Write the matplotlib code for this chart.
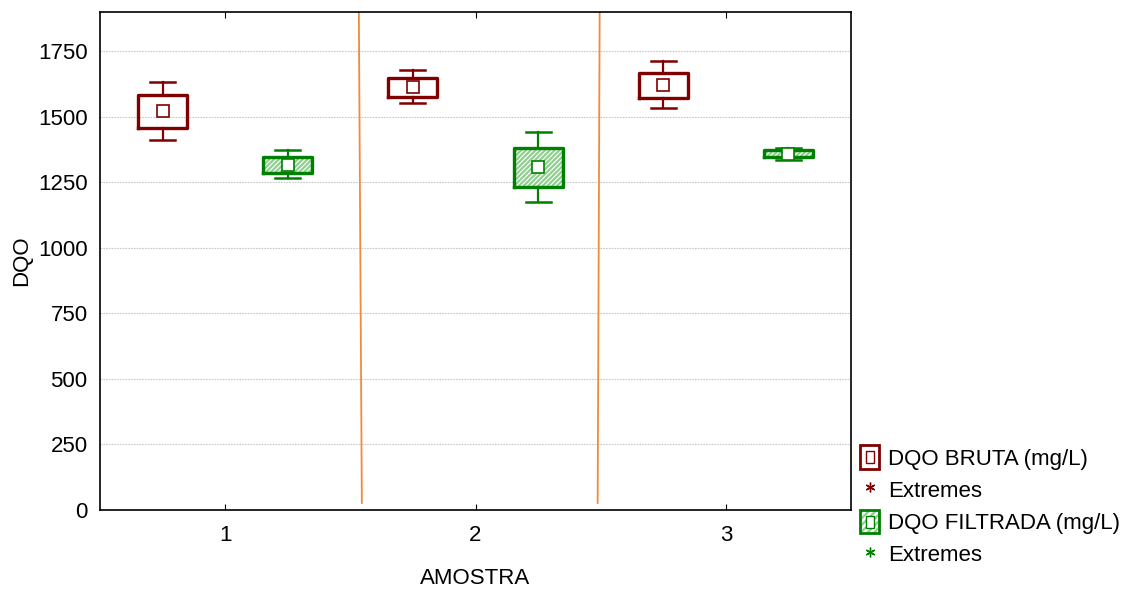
import numpy as np
import matplotlib.pyplot as plt
from matplotlib.lines import Line2D
from matplotlib.patches import Patch, Rectangle

plt.rcParams['font.family'] = ['Liberation Sans', 'DejaVu Sans']
plt.rcParams['font.size'] = 16
plt.rcParams['hatch.linewidth'] = 1.6

amostras = [1, 2, 3]
tick_labels = ['1', '2', '3']

# DQO BRUTA (mg/L): whisker low, q1, q3, whisker high, mean
bruta_lo = [1410, 1554, 1535]
bruta_q1 = [1458, 1577, 1573]
bruta_q3 = [1582, 1647, 1668]
bruta_hi = [1634, 1677, 1713]
bruta_mean = [1522, 1614, 1620]

# DQO FILTRADA (mg/L)
filt_lo = [1267, 1174, 1337]
filt_q1 = [1286, 1233, 1346]
filt_q3 = [1346, 1382, 1372]
filt_hi = [1372, 1443, 1382]
filt_mean = [1316, 1308, 1360]

# orange divider lines (x at top, x at bottom), y range
div_x = [[1.534, 1.546], [2.496, 2.488]]
div_y = [1900, 27]

red = '#800000'
green = '#008000'
lightgreen = '#8fcf8f'
orange = '#f28a3c'


def make_stats(lo, q1, q3, hi, mean):
    out = []
    for a, b, c, d, m in zip(lo, q1, q3, hi, mean):
        out.append(dict(whislo=a, q1=b, med=m, q3=c, whishi=d, mean=m, fliers=[]))
    return out


class BoxHandler:
    def __init__(self, col, hatch=None, hatchcol=None):
        self.col = col
        self.hatch = hatch
        self.hatchcol = hatchcol

    def legend_artist(self, legend, orig_handle, fontsize, handlebox):
        x0, y0 = -handlebox.xdescent, -handlebox.ydescent
        w, h = handlebox.width, handlebox.height
        tr = handlebox.get_transform()
        if self.hatch:
            fill = Rectangle((x0, y0), w, h, facecolor='white', edgecolor=self.hatchcol,
                             hatch=self.hatch, linewidth=0, transform=tr)
            handlebox.add_artist(fill)
        outer = Rectangle((x0, y0), w, h, facecolor='none' if self.hatch else 'white',
                          edgecolor=self.col, linewidth=2, transform=tr)
        inner = Rectangle((x0 + w * 0.27, y0 + h * 0.25), w * 0.46, h * 0.5, facecolor='white',
                          edgecolor=self.col, linewidth=1, transform=tr)
        handlebox.add_artist(outer)
        handlebox.add_artist(inner)
        return outer


fig = plt.figure(figsize=(11.24, 5.96), dpi=100)
ax = fig.add_axes([100 / 1124, 1 - 510 / 596, 751 / 1124, 498 / 596])

x = np.array(amostras, dtype=float)
width = 0.196

# hatched fill of the FILTRADA boxes
ax.bar(x + 0.25, np.array(filt_q3) - np.array(filt_q1), bottom=filt_q1, width=width,
       facecolor='white', edgecolor=lightgreen, hatch='/' * 7, linewidth=0, zorder=2)

for stats, off, col in [(make_stats(bruta_lo, bruta_q1, bruta_q3, bruta_hi, bruta_mean), -0.25, red),
                        (make_stats(filt_lo, filt_q1, filt_q3, filt_hi, filt_mean), 0.25, green)]:
    ax.bxp(stats, positions=x + off, widths=width, capwidths=0.1,
           showmeans=True, showfliers=False, manage_ticks=False,
           boxprops=dict(color=col, linewidth=2.4),
           whiskerprops=dict(color=col, linewidth=1.6),
           capprops=dict(color=col, linewidth=1.8),
           medianprops=dict(linewidth=0),
           meanprops=dict(marker='s', markersize=8, markerfacecolor='white',
                          markeredgecolor=col, markeredgewidth=1.2),
           zorder=3)

for xs in div_x:
    ax.plot(xs, div_y, color=orange, linewidth=1.3, zorder=2)

ax.set_xlim(0.5, 3.5)
ax.set_ylim(0, 1900)
ax.set_yticks(np.arange(0, 1751, 250))
ax.set_xticks(amostras)
ax.set_xticklabels(tick_labels)
ax.yaxis.grid(True, linestyle=(0, (1.5, 1)), color='#c8c8c8', linewidth=0.8)
ax.set_axisbelow(True)
ax.tick_params(axis='x', direction='in', length=4, top=True, pad=11)
ax.tick_params(axis='y', direction='in', length=0, pad=9)
for s in ax.spines.values():
    s.set_linewidth(1.2)

ax.set_xlabel('AMOSTRA', labelpad=16)
ax.set_ylabel('DQO', labelpad=4)

box_bruta = Patch()
box_filt = Patch()
handles = [
    box_bruta,
    Line2D([], [], marker=(6, 2, 0), markersize=7, linestyle='none', color=red, markeredgewidth=1),
    box_filt,
    Line2D([], [], marker=(6, 2, 0), markersize=7, linestyle='none', color=green, markeredgewidth=1),
]
labels = ['DQO BRUTA (mg/L)', 'Extremes', 'DQO FILTRADA (mg/L)', 'Extremes']
fig.legend(handles, labels, loc='upper left', bbox_to_anchor=(856 / 1124, 1 - 441 / 596),
           frameon=False, handlelength=0.85, handleheight=1.25, handletextpad=0.4,
           labelspacing=0.36, borderaxespad=0, borderpad=0.2,
           handler_map={box_bruta: BoxHandler(red),
                        box_filt: BoxHandler(green, '/' * 5, lightgreen)})

fig.savefig('out.png', dpi=100)
